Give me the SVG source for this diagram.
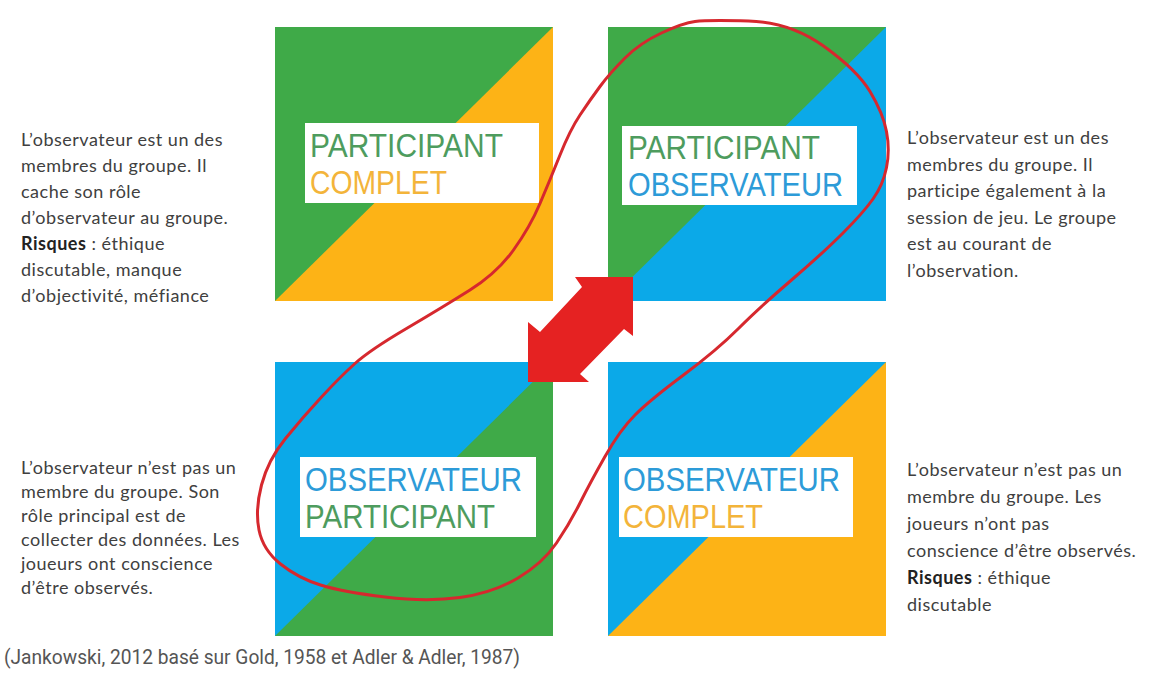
<svg xmlns="http://www.w3.org/2000/svg" width="1151" height="677" viewBox="0 0 1151 677">
<style>
.g{fill:#3FAA48}.y{fill:#FDB316}.b{fill:#0BA9E8}
.box{fill:#FFFFFF}
.lab{font-family:"Liberation Sans",Arial,sans-serif;font-size:33px;font-weight:400}
.tg{fill:#4E9C5E}.tb{fill:#2D9BD8}.ty{fill:#F3B43A}
.desc{font-family:Lato,"Open Sans",sans-serif;font-size:18px;letter-spacing:0.5px;fill:#404040}
.bold{font-weight:700;fill:#222}
.cite{font-family:Roboto,"DejaVu Sans",sans-serif;font-size:20px;fill:#555}
</style>
<rect width="1151" height="677" fill="#FFFFFF"/>
<g id="participant-complet">
<rect x="275" y="27" width="278" height="274" class="y"/>
<polygon points="275,27 553,27 275,301" class="g"/>
<rect x="305" y="123" width="234" height="80" class="box"/>
<text x="310" y="157" class="lab tg" textLength="193" lengthAdjust="spacingAndGlyphs">PARTICIPANT</text>
<text x="310" y="194" class="lab ty" textLength="137" lengthAdjust="spacingAndGlyphs">COMPLET</text>
</g>
<g id="participant-observateur">
<rect x="608" y="27" width="278" height="274" class="b"/>
<polygon points="608,27 886,27 608,301" class="g"/>
<rect x="622" y="126" width="235" height="79" class="box"/>
<text x="628" y="159" class="lab tg" textLength="192" lengthAdjust="spacingAndGlyphs">PARTICIPANT</text>
<text x="628" y="196" class="lab tb" textLength="215" lengthAdjust="spacingAndGlyphs">OBSERVATEUR</text>
</g>
<g id="observateur-participant">
<rect x="275" y="362" width="278" height="274" class="g"/>
<polygon points="275,362 553,362 275,636" class="b"/>
<rect x="300" y="457" width="236" height="80" class="box"/>
<text x="305" y="491" class="lab tb" textLength="217" lengthAdjust="spacingAndGlyphs">OBSERVATEUR</text>
<text x="305" y="528" class="lab tg" textLength="190" lengthAdjust="spacingAndGlyphs">PARTICIPANT</text>
</g>
<g id="observateur-complet">
<rect x="608" y="362" width="278" height="274" class="y"/>
<polygon points="608,362 886,362 608,636" class="b"/>
<rect x="619" y="457" width="234" height="80" class="box"/>
<text x="623" y="491" class="lab tb" textLength="217" lengthAdjust="spacingAndGlyphs">OBSERVATEUR</text>
<text x="623" y="528" class="lab ty" textLength="140" lengthAdjust="spacingAndGlyphs">COMPLET</text>
</g>
<g id="connectors">
<polygon points="575,277 633,277 633,336 624,329 580,374 589,382 528,382 528,322 540,332 582,287" fill="#E52222"/>
<path d="M695,21.5 Q707,20 748.5,21 Q790,22 823.5,46 Q857,70 870,91.5 Q883,113 886.5,131.5 Q890,150 886.5,167.5 Q883,185 873,199 Q863,213 843,233 Q823,253 791.5,280 Q760,307 738.5,328.5 Q717,350 683.5,375 Q650,400 635,415 Q620,430 605,456.5 Q590,483 580,503 Q570,523 556.5,543 Q543,563 518,578 Q493,593 460,597.5 Q427,602 385,597 Q343,592 320.5,585 Q298,578 280.5,564 Q263,550 259,530 Q255,510 261.5,485 Q268,460 285.5,438.5 Q303,417 321.5,397 Q340,377 355,363.5 Q370,350 406.5,328.5 Q443,307 470,290 Q497,273 513.5,250 Q530,227 540,203.5 Q550,180 560,155 Q570,130 580,115 Q590,100 600,86.5 Q610,73 625,58 Q640,43 661.5,33 Q683,23 695,21.5 Z" fill="none" stroke="#D6282E" stroke-width="3"/>
</g>
<g id="text-participant-complet" class="desc">
<text x="21" y="146">L’observateur est un des</text>
<text x="21" y="172">membres du groupe. Il</text>
<text x="21" y="198">cache son rôle</text>
<text x="21" y="224">d’observateur au groupe.</text>
<text x="21" y="250"><tspan class="bold">Risques</tspan> : éthique</text>
<text x="21" y="276">discutable, manque</text>
<text x="21" y="302">d’objectivité, méfiance</text>
</g>
<g id="text-participant-observateur" class="desc">
<text x="907" y="144">L’observateur est un des</text>
<text x="907" y="171">membres du groupe. Il</text>
<text x="907" y="197">participe également à la</text>
<text x="907" y="224">session de jeu. Le groupe</text>
<text x="907" y="250">est au courant de</text>
<text x="907" y="277">l’observation.</text>
</g>
<g id="text-observateur-participant" class="desc">
<text x="21" y="474">L’observateur n’est pas un</text>
<text x="21" y="498">membre du groupe. Son</text>
<text x="21" y="522">rôle principal est de</text>
<text x="21" y="546">collecter des données. Les</text>
<text x="21" y="570">joueurs ont conscience</text>
<text x="21" y="594">d’être observés.</text>
</g>
<g id="text-observateur-complet" class="desc">
<text x="907" y="476">L’observateur n’est pas un</text>
<text x="907" y="503">membre du groupe. Les</text>
<text x="907" y="530">joueurs n’ont pas</text>
<text x="907" y="557">conscience d’être observés.</text>
<text x="907" y="584"><tspan class="bold">Risques</tspan> : éthique</text>
<text x="907" y="611">discutable</text>
</g>
<g id="citation">
<text x="4" y="664" class="cite" textLength="516" lengthAdjust="spacingAndGlyphs">(Jankowski, 2012 basé sur Gold, 1958 et Adler &amp; Adler, 1987)</text>
</g>
</svg>
